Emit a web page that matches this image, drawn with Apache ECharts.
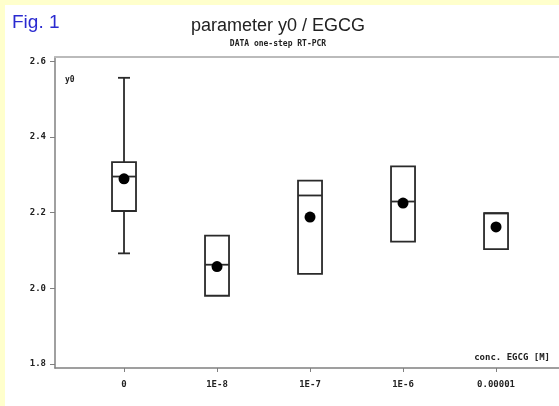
<!DOCTYPE html>
<html>
<head>
<meta charset="utf-8">
<script src="https://cdn.jsdelivr.net/npm/echarts@6/dist/echarts.min.js"></script>
<style>
html,body{margin:0;padding:0;background:#ffffcc;}
#chart{width:559px;height:406px;}
</style>
</head>
<body>
<div id="chart"></div>
<script>
var categories = ['0', '1E-8', '1E-7', '1E-6', '0.00001'];
var q1 = [2.204, 1.980, 2.038, 2.123, 2.103];
var median = [2.295, 2.062, 2.245, 2.229, 2.198];
var q3 = [2.333, 2.139, 2.284, 2.322, 2.198];
var whiskerLow = [2.092, null, null, null, null];
var whiskerHigh = [2.556, null, null, null, null];
var means = [2.289, 2.057, 2.188, 2.225, 2.162];
var yTicks = [1.8, 2.0, 2.2, 2.4, 2.6];
var xTicks = [0, 1, 2, 3, 4];

var boxData = categories.map(function (c, i) {
  return [i, q1[i], median[i], q3[i], whiskerLow[i], whiskerHigh[i]];
});
var meanData = categories.map(function (c, i) { return [i, means[i]]; });

var lineColor = '#2a2a2a';
var monoFont = 'DejaVu Sans Mono';
var xMin = -0.742, xMax = 4.677;

var chart = echarts.init(document.getElementById('chart'));
chart.setOption({
  backgroundColor: '#ffffff',
  animation: false,
  graphic: [
    { type: 'rect', left: 0, top: 0, shape: { width: 5, height: 406 }, style: { fill: '#ffffcc' }, z: 100 },
    { type: 'rect', left: 0, top: 0, shape: { width: 559, height: 5 }, style: { fill: '#ffffcc' }, z: 100 },
    { type: 'text', left: 12, top: 13, style: { text: 'Fig. 1', font: '19px "Liberation Sans"', fill: '#2a2ad0' } },
    { type: 'text', left: 65, top: 76, style: { text: 'y0', font: 'bold 8px "DejaVu Sans Mono"', fill: '#222' } },
    { type: 'text', right: 9, top: 353, style: { text: 'conc. EGCG [M]', font: 'bold 9px "DejaVu Sans Mono"', fill: '#222', textAlign: 'right' } }
  ],
  title: {
    text: 'parameter y0 / EGCG',
    subtext: 'DATA one-step RT-PCR',
    left: 273,
    top: 12,
    textAlign: 'center',
    itemGap: 5,
    textStyle: { fontFamily: 'Liberation Sans', fontSize: 18, fontWeight: 'normal', color: '#222' },
    subtextStyle: { fontFamily: monoFont, fontSize: 8, fontWeight: 'bold', color: '#222' }
  },
  grid: { left: 55, top: 57, right: 0, bottom: 38 },
  xAxis: [{
    type: 'value',
    min: xMin,
    max: xMax,
    splitLine: { show: false },
    axisLine: { show: true, onZero: false, lineStyle: { color: '#808080', width: 1.5 } },
    axisTick: { show: true, length: 4, customValues: xTicks, lineStyle: { color: '#808080', width: 1 } },
    axisLabel: {
      customValues: xTicks,
      margin: 12,
      fontFamily: monoFont, fontSize: 9, fontWeight: 'bold', color: '#222',
      formatter: function (v) { return categories[Math.round(v)]; }
    }
  }, {
    type: 'value',
    position: 'top',
    min: xMin,
    max: xMax,
    splitLine: { show: false },
    axisLine: { show: true, onZero: false, lineStyle: { color: '#bbbbbb', width: 2 } },
    axisTick: { show: false },
    axisLabel: { show: false }
  }],
  yAxis: {
    type: 'value',
    min: 1.789,
    max: 2.611,
    splitLine: { show: false },
    axisLine: { show: true, onZero: false, lineStyle: { color: '#808080', width: 1.5 } },
    axisTick: { show: true, length: 5, customValues: yTicks, lineStyle: { color: '#808080', width: 1 } },
    axisLabel: {
      customValues: yTicks,
      margin: 9,
      fontFamily: monoFont, fontSize: 9, fontWeight: 'bold', color: '#222',
      formatter: function (v) { return v.toFixed(1); }
    }
  },
  series: [
    {
      type: 'custom',
      xAxisIndex: 0,
      data: boxData,
      encode: { x: 0, y: [1, 2, 3] },
      renderItem: function (params, api) {
        var x = api.value(0);
        var pQ1 = api.coord([x, api.value(1)]);
        var pMed = api.coord([x, api.value(2)]);
        var pQ3 = api.coord([x, api.value(3)]);
        var hw = 12, cw = 6;
        var style = { stroke: lineColor, lineWidth: 1.8, fill: null };
        var children = [
          { type: 'rect', shape: { x: pQ1[0] - hw, y: pQ3[1], width: hw * 2, height: pQ1[1] - pQ3[1] }, style: { stroke: lineColor, lineWidth: 1.8, fill: '#fff' } },
          { type: 'line', shape: { x1: pQ1[0] - hw, y1: pMed[1], x2: pQ1[0] + hw, y2: pMed[1] }, style: style }
        ];
        var wl = api.value(4), wh = api.value(5);
        if (wl != null && !isNaN(wl)) {
          var pL = api.coord([x, wl]);
          children.push({ type: 'line', shape: { x1: pL[0], y1: pQ1[1], x2: pL[0], y2: pL[1] }, style: style });
          children.push({ type: 'line', shape: { x1: pL[0] - cw, y1: pL[1], x2: pL[0] + cw, y2: pL[1] }, style: style });
        }
        if (wh != null && !isNaN(wh)) {
          var pH = api.coord([x, wh]);
          children.push({ type: 'line', shape: { x1: pH[0], y1: pQ3[1], x2: pH[0], y2: pH[1] }, style: style });
          children.push({ type: 'line', shape: { x1: pH[0] - cw, y1: pH[1], x2: pH[0] + cw, y2: pH[1] }, style: style });
        }
        return { type: 'group', children: children };
      },
      z: 2
    },
    {
      type: 'scatter',
      xAxisIndex: 0,
      data: meanData,
      symbol: 'circle',
      symbolSize: 11,
      itemStyle: { color: '#000', opacity: 1 },
      z: 3
    }
  ]
});
</script>
</body>
</html>
